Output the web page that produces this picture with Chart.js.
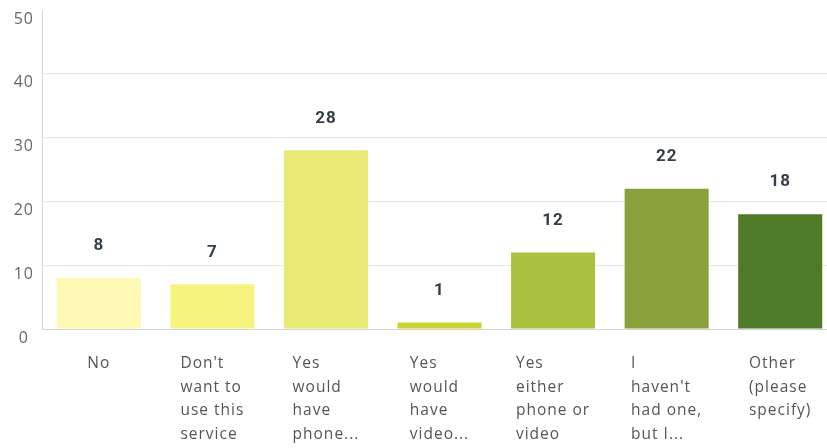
<!DOCTYPE html>
<html>
<head>
<meta charset="utf-8">
<script src="https://cdn.jsdelivr.net/npm/chart.js@4/dist/chart.umd.min.js"></script>
<style>
  html, body { margin: 0; padding: 0; overflow: hidden; background: #fff; }
  #wrap { position: relative; width: 840px; height: 470px; }
</style>
</head>
<body>
<div id="wrap"><canvas id="myChart"></canvas></div>
<script>
'use strict';

let answerLabels = [
  ['No'],
  ['Don\'t', 'want to', 'use this', 'service'],
  ['Yes', 'would', 'have', 'phone...'],
  ['Yes', 'would', 'have', 'video...'],
  ['Yes', 'either', 'phone or', 'video'],
  ['I', 'haven\'t', 'had one,', 'but I...'],
  ['Other', '(please', 'specify)']
];
let answerCounts = [8, 7, 28, 1, 12, 22, 18];
let barColors = ['#fef9b4', '#f6f37f', '#e7ea75', '#c9d530', '#a9c23e', '#88a13b', '#4f7a28'];
let yTicks = [0, 10, 20, 30, 40, 50];

let labelFont = '15.5px "Open Sans", sans-serif';

// wider tracking for all axis text
const spacing = {
  id: 'spacing',
  beforeDraw(chart) {
    chart.ctx.letterSpacing = '1px';
  }
};

// value above each bar
const valueLabels = {
  id: 'valueLabels',
  afterDatasetsDraw(chart) {
    let ctx = chart.ctx;
    let meta = chart.getDatasetMeta(0);
    ctx.save();
    ctx.font = 'bold 17px Roboto, sans-serif';
    ctx.letterSpacing = '1px';
    ctx.fillStyle = '#333e48';
    ctx.textAlign = 'center';
    ctx.textBaseline = 'middle';
    meta.data.forEach((bar, i) => {
      ctx.fillText(String(answerCounts[i]), bar.x, bar.y - 32);
    });
    ctx.restore();
  }
};

// category text: lines left aligned, block centred under the bar
const categoryText = {
  id: 'categoryText',
  afterDraw(chart) {
    let ctx = chart.ctx;
    let xScale = chart.scales.x;
    ctx.save();
    ctx.font = labelFont;
    ctx.letterSpacing = '1px';
    ctx.fillStyle = '#555';
    ctx.textAlign = 'left';
    ctx.textBaseline = 'alphabetic';
    answerLabels.forEach((lines, i) => {
      let center = xScale.getPixelForValue(i);
      let widest = Math.max(...lines.map(l => ctx.measureText(l).width));
      let left = center - widest / 2;
      lines.forEach((line, j) => {
        ctx.fillText(line, left, xScale.top + 39 + j * 23.7);
      });
    });
    ctx.restore();
  }
};

const data = {
  labels: answerLabels.map(l => l.join(' ')),
  datasets: [{
    data: answerCounts,
    backgroundColor: barColors,
    borderWidth: 0,
    barPercentage: 0.74,
    categoryPercentage: 1
  }]
};

const config = {
  type: 'bar',
  data: data,
  options: {
    responsive: true,
    maintainAspectRatio: false,
    animation: false,
    layout: { padding: { top: 10, right: 3, left: 0, bottom: 0 } },
    plugins: {
      legend: { display: false },
      tooltip: { enabled: false }
    },
    scales: {
      x: {
        grid: { display: false },
        border: { color: '#d4d4d4', width: 1 },
        ticks: { display: false },
        afterFit: s => { s.height = 141; }
      },
      y: {
        min: 0,
        max: 50,
        afterBuildTicks: s => { s.ticks = yTicks.map(v => ({ value: v })); },
        afterFit: s => {
          s.width = 42;
          s.paddingTop = 0;
          s.paddingBottom = 0;
        },
        grid: {
          drawTicks: false,
          color: c => (c.tick && (c.tick.value === 0 || c.tick.value === 50)) ? 'rgba(0,0,0,0)' : '#e8e8e8',
          lineWidth: 1
        },
        border: { color: '#d4d4d4', width: 1 },
        ticks: {
          padding: 9,
          crossAlign: 'center',
          labelOffset: 9,
          color: '#666',
          font: { family: '"Open Sans", sans-serif', size: 16 }
        }
      }
    }
  },
  plugins: [spacing, valueLabels, categoryText]
};

const myChart = new Chart(
  document.getElementById('myChart'),
  config
);
</script>
</body>
</html>
